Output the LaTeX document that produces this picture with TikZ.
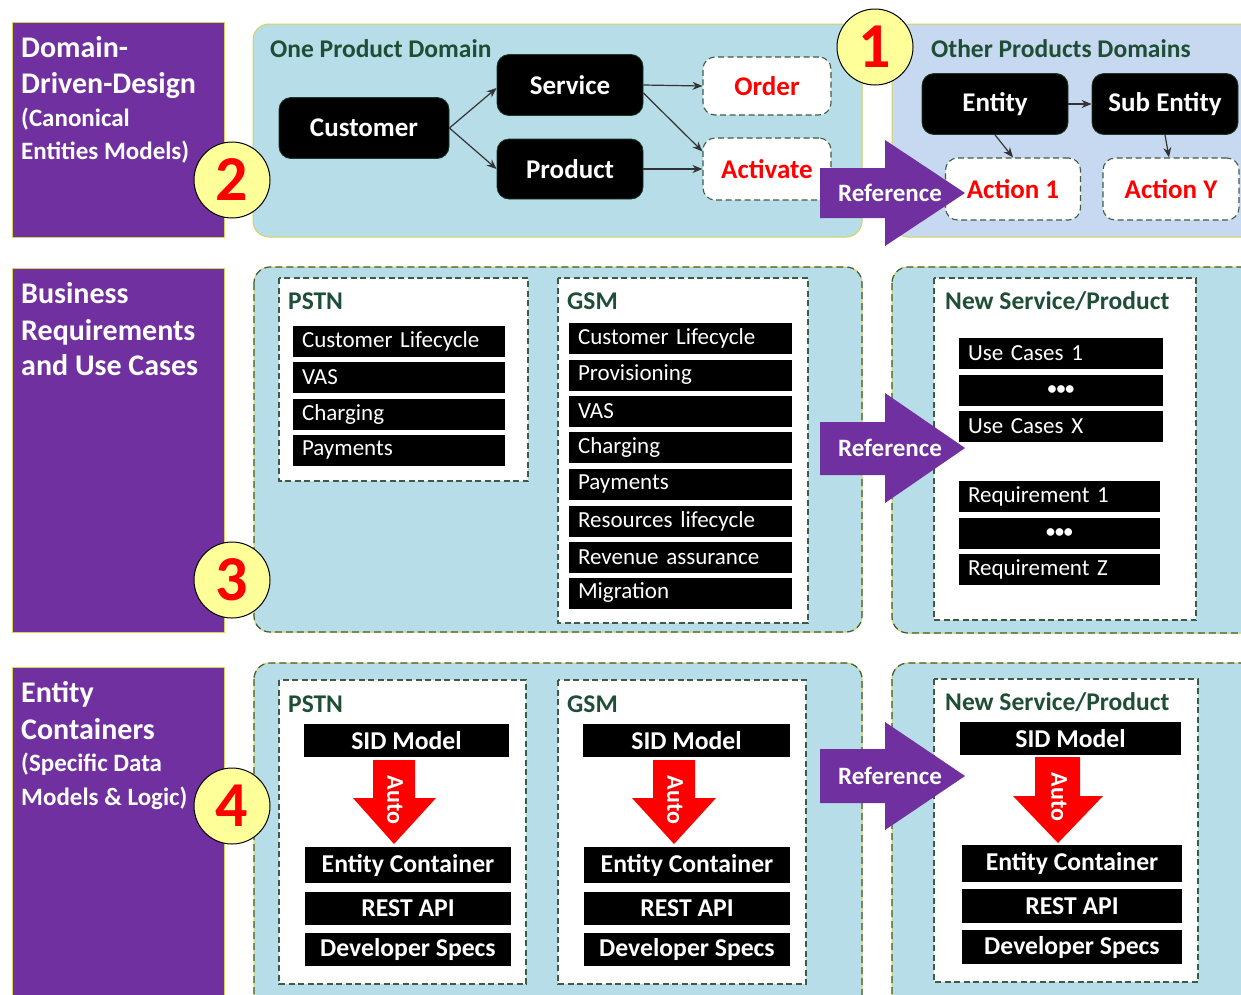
\documentclass[tikz,border=0pt]{standalone}
\usepackage{fontspec}
\setmainfont{Carlito}
\usetikzlibrary{arrows.meta}
\definecolor{purp}{HTML}{7030A0}
\definecolor{lblue}{HTML}{B7DDE8}
\definecolor{lblueb}{HTML}{C6D9F0}
\definecolor{circfill}{HTML}{FFFF99}
\definecolor{labgreen}{HTML}{1F4E36}
\definecolor{dashcol}{HTML}{3D5C45}
\definecolor{yedge}{HTML}{D6D35A}
\definecolor{nodeedge}{HTML}{1A3A28}
\begin{document}
\begin{tikzpicture}[x=1pt,y=-1pt,
  panel/.style={fill=purp, draw=yedge, line width=0.8pt},
  domsolid/.style={draw=yedge, line width=1pt, rounded corners=16pt},
  domdash/.style={draw=dashcol, line width=1.2pt, dash pattern=on 7pt off 4pt, rounded corners=16pt},
  innerbox/.style={fill=white, draw=dashcol, line width=1.1pt, dash pattern=on 6pt off 3.5pt},
  blk/.style={fill=black, draw=nodeedge, line width=0.8pt, rounded corners=12pt, text=white,
    font=\fontsize{27}{30}\selectfont\bfseries, inner sep=0pt},
  actn/.style={fill=white, draw=dashcol, line width=1.1pt, dash pattern=on 6pt off 3.5pt,
    rounded corners=12pt, text=red, font=\fontsize{27}{30}\selectfont\bfseries, inner sep=0pt},
  rowbox/.style={fill=black, text=white, font=\fontsize{23}{26}\selectfont, align=left,
    inner xsep=9pt, inner ysep=0pt, minimum height=31pt, text width=#1},
  dotbox/.style={fill=black, text=white, font=\fontsize{18}{22}\selectfont\bfseries, align=center,
    inner sep=0pt, minimum height=31pt, minimum width=#1},
  bbox/.style={fill=black, text=white, font=\fontsize{25.7}{28}\selectfont\bfseries,
    inner sep=0pt, minimum height=33pt, minimum width=#1},
  lab/.style={text=labgreen, font=\fontsize{25.5}{28}\selectfont\bfseries, inner sep=0pt, anchor=base west},
  ptitle/.style={text=white, font=\fontsize{30}{32}\selectfont\bfseries, inner sep=0pt, anchor=base west},
  psub/.style={text=white, font=\fontsize{25}{28}\selectfont\bfseries, inner sep=0pt, anchor=base west},
  numc/.style={circle, fill=circfill, draw=black, line width=1pt, minimum size=76pt, inner sep=0pt,
    text=red, font=\fontsize{64}{64}\selectfont\bfseries},
  conn/.style={draw=black!80, line width=1.2pt, -{Stealth[length=10pt,width=8pt]}},
  reftext/.style={text=white, font=\fontsize{25}{28}\selectfont\bfseries, inner sep=0pt},
  autotext/.style={text=white, font=\fontsize{24}{28}\selectfont\bfseries, inner sep=0pt, rotate=-90}
]
\clip (0,0) rectangle (1241,994);
\fill[white] (0,0) rectangle (1241,994);

% ---------- left purple panels ----------
\filldraw[panel] (12,22) rectangle (224,237);
\filldraw[panel] (12,268) rectangle (224,632);
\filldraw[panel] (12,667) rectangle (224,1010);

\node[ptitle] (t1a) at (21,57) {Domain-};
\node[ptitle] (t1b) at (21,93) {Driven-Design};
\node[psub] (t1c) at (21,126) {(Canonical};
\node[psub] (t1d) at (21,159) {Entities Models)};

\node[ptitle] (t2a) at (21,303) {Business};
\node[ptitle] (t2b) at (21,340) {Requirements};
\node[ptitle] (t2c) at (21,375) {and Use Cases};

\node[ptitle] (t3a) at (21,702) {Entity};
\node[ptitle] (t3b) at (21,739) {Containers};
\node[psub] (t3c) at (21,771) {(Specific Data};
\node[psub] (t3d) at (21,805) {Models \& Logic)};

% ---------- domain boxes ----------
\filldraw[lblue, domsolid] (253,24) rectangle (862,237);
\filldraw[lblueb, domsolid] (892,24) rectangle (1270,237);

\fill[lblue, rounded corners=16pt] (254,267) rectangle (862,632);
\draw[yedge, line width=1pt, rounded corners=16pt] (254,267) rectangle (862,632);
\draw[domdash] (254,267) rectangle (862,632);
\fill[lblue, rounded corners=16pt] (892,267) rectangle (1270,633);
\draw[yedge, line width=1pt, rounded corners=16pt] (892,267) rectangle (1270,633);
\draw[domdash] (892,267) rectangle (1270,633);

\fill[lblue, rounded corners=16pt] (254,663) rectangle (862,1030);
\draw[yedge, line width=1pt, rounded corners=16pt] (254,663) rectangle (862,1030);
\draw[domdash] (254,663) rectangle (862,1030);
\fill[lblue, rounded corners=16pt] (892,663) rectangle (1270,1030);
\draw[yedge, line width=1pt, rounded corners=16pt] (892,663) rectangle (1270,1030);
\draw[domdash] (892,663) rectangle (1270,1030);

% ---------- top row ----------
\node[lab] (lone) at (270,57) {One Product Domain};
\node[lab] (loth) at (931,57) {Other Products Domains};

\node[blk, minimum width=170pt, minimum height=61pt] (cust) at (364,128) {Customer};
\node[blk, minimum width=146pt, minimum height=61pt] (serv) at (570,85) {Service};
\node[blk, minimum width=146pt, minimum height=60pt] (prod) at (570,169) {Product};
\node[actn, minimum width=128pt, minimum height=58pt] (order) at (767,86) {Order};
\node[actn, minimum width=128pt, minimum height=62pt] (activ) at (767,169) {Activate};
\node[blk, minimum width=146pt, minimum height=61pt] (ent) at (995,104) {Entity};
\node[blk, minimum width=146pt, minimum height=61pt] (sub) at (1165,104) {Sub Entity};
\node[actn, minimum width=135pt, minimum height=62pt] (a1) at (1013,189) {Action 1};
\node[actn, minimum width=136pt, minimum height=62pt] (ay) at (1171,189) {Action Y};

\draw[conn] (cust.east) -- ([yshift=-3pt]serv.west);
\draw[conn] (cust.east) -- (prod.west);
\draw[conn] (serv.east) -- (order.west);
\draw[conn] ([yshift=-8pt]serv.east) -- ([yshift=-14pt]activ.north west);
\draw[conn] (prod.east) -- (activ.west);
\draw[conn] (ent.east) -- (sub.west);
\draw[conn] (ent.south) -- (a1.north);
\draw[conn] (sub.south) -- ([xshift=-2pt]ay.north);

% ---------- middle row ----------
\draw[innerbox] (279,278) rectangle (528,481);
\draw[innerbox] (558,278) rectangle (808,623);
\draw[innerbox] (934,278) rectangle (1196,620);
\node[lab] (lpstn2) at (288,309) {PSTN};
\node[lab] (lgsm2) at (567,309) {GSM};
\node[lab] (lnew2) at (945,309) {New Service/Product};

\node[rowbox=194pt] (p1) at (399,341) {Customer Lifecycle};
\node[rowbox=194pt] (p2) at (399,377.5) {VAS};
\node[rowbox=194pt] (p3) at (399,414) {Charging};
\node[rowbox=194pt] (p4) at (399,450) {Payments};

\node[rowbox=205pt] (g1) at (680.5,338) {Customer Lifecycle};
\node[rowbox=205pt] (g2) at (680.5,375) {Provisioning};
\node[rowbox=205pt] (g3) at (680.5,411.5) {VAS};
\node[rowbox=205pt] (g4) at (680.5,447.5) {Charging};
\node[rowbox=205pt] (g5) at (680.5,484) {Payments};
\node[rowbox=205pt] (g6) at (680.5,521) {Resources lifecycle};
\node[rowbox=205pt] (g7) at (680.5,557) {Revenue assurance};
\node[rowbox=205pt] (g8) at (680.5,593) {Migration};

\node[rowbox=186pt] (u1) at (1061,353) {Use Cases 1};
\node[dotbox=204pt] (u2) at (1061,390) {\textbullet\textbullet\textbullet};
\node[rowbox=186pt] (u3) at (1061,426) {Use Cases X};
\node[rowbox=183pt] (r1) at (1059.5,496.5) {Requirement 1};
\node[dotbox=201pt] (r2) at (1059.5,533) {\textbullet\textbullet\textbullet};
\node[rowbox=183pt] (r3) at (1059.5,569) {Requirement Z};

% ---------- bottom row ----------
\draw[innerbox] (279,680) rectangle (526,984);
\draw[innerbox] (558,680) rectangle (806,984);
\draw[innerbox] (934,679) rectangle (1198,982);
\node[lab] (lpstn3) at (288,712) {PSTN};
\node[lab] (lgsm3) at (567,712) {GSM};
\node[lab] (lnew3) at (945,710) {New Service/Product};

\node[bbox=205pt] (ps1) at (406.5,740.5) {SID Model};
\node[bbox=206pt, minimum height=36pt] (ps2) at (408,865) {Entity Container};
\node[bbox=206pt] (ps3) at (408,908.5) {REST API};
\node[bbox=206pt] (ps4) at (408,949.5) {Developer Specs};

\node[bbox=207pt] (gs1) at (686.5,740.5) {SID Model};
\node[bbox=206pt, minimum height=36pt] (gs2) at (687,865) {Entity Container};
\node[bbox=206pt] (gs3) at (687,908.5) {REST API};
\node[bbox=206pt] (gs4) at (687,949.5) {Developer Specs};

\node[bbox=221pt] (ns1) at (1070.5,738.5) {SID Model};
\node[bbox=220pt, minimum height=37pt] (ns2) at (1072,863.5) {Entity Container};
\node[bbox=220pt, minimum height=34pt] (ns3) at (1072,906) {REST API};
\node[bbox=220pt, minimum height=34pt] (ns4) at (1072,947) {Developer Specs};

% Auto arrows
\fill[red] (373,760) -- (415,760) -- (415,798) -- (436,798) -- (394,844) -- (353,798) -- (373,798) -- cycle;
\node[autotext] (auto1) at (395,800) {Auto};
\fill[red] (653,760) -- (695,760) -- (695,798) -- (716,798) -- (674,844) -- (632,798) -- (653,798) -- cycle;
\node[autotext] (auto2) at (675,800) {Auto};
\fill[red] (1035,757) -- (1080,757) -- (1080,796) -- (1103,796) -- (1058,843) -- (1013,796) -- (1035,796) -- cycle;
\node[autotext] (auto3) at (1059,797) {Auto};

% ---------- Reference arrows ----------
\fill[purp] (820,168) -- (885,168) -- (885,140) -- (965,193) -- (885,246) -- (885,218) -- (820,218) -- cycle;
\node[reftext] (ref1) at (890,193) {Reference};
\fill[purp] (820,422) -- (885,422) -- (885,393) -- (965,448) -- (885,503) -- (885,475) -- (820,475) -- cycle;
\node[reftext] (ref2) at (890,448) {Reference};
\fill[purp] (820,749) -- (885,749) -- (885,722) -- (965,776) -- (885,830) -- (885,803) -- (820,803) -- cycle;
\node[reftext] (ref3) at (890,776) {Reference};

% ---------- number circles ----------
\node[numc] (n1) at (875,47) {1};
\node[numc] (n2) at (232,180) {2};
\node[numc] (n3) at (232,580) {3};
\node[numc] (n4) at (232,806) {4};
\end{tikzpicture}
\end{document}
